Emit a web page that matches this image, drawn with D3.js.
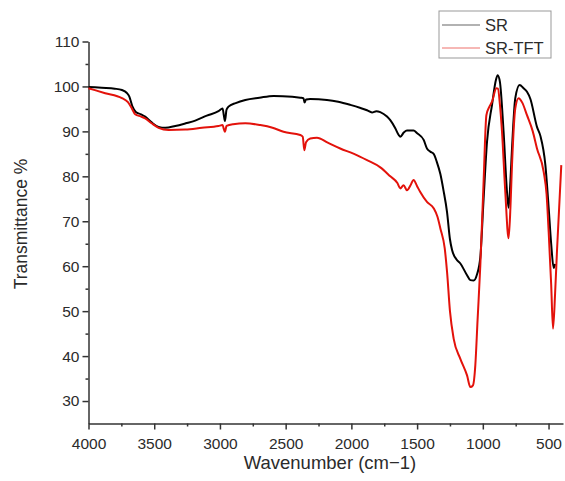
<!DOCTYPE html>
<html>
<head>
<meta charset="utf-8">
<script src="https://cdn.jsdelivr.net/npm/d3@7"></script>
<style>
  body { margin: 0; background: #fff; }
  text { font-family: "Liberation Sans", Arial, sans-serif; fill: #2b2b2b; }
</style>
</head>
<body>
<div class="chartHolder"></div>
<script>
// FTIR spectra: [wavenumber, transmittance %]
let srSpectrum = [
  [4000, 99.9], [3900, 99.7], [3800, 99.5], [3746, 99.2], [3710, 98.6], [3690, 97.8],
  [3665, 95.5], [3640, 94.3], [3600, 93.8], [3569, 93.3], [3520, 92.0], [3467, 91.0],
  [3416, 90.8], [3340, 91.2], [3260, 91.8], [3188, 92.4], [3100, 93.5], [3011, 94.5],
  [2980, 95.1], [2970, 93.5], [2962, 92.3], [2950, 94.8], [2935, 95.5], [2880, 96.3],
  [2807, 97.0], [2700, 97.5], [2592, 97.9], [2450, 97.7], [2389, 97.5], [2365, 97.4],
  [2356, 96.4], [2345, 97.1], [2313, 97.2], [2186, 97.0], [2100, 96.6], [2008, 95.9],
  [1930, 95.2], [1881, 94.7], [1843, 94.2], [1810, 94.5], [1780, 94.3], [1729, 93.3],
  [1704, 92.5], [1666, 90.7], [1640, 89.2], [1628, 88.8], [1600, 89.8], [1577, 90.2],
  [1527, 90.2], [1500, 89.6], [1450, 88.1], [1425, 86.2], [1400, 85.5], [1374, 85.0],
  [1350, 83.2], [1323, 80.5], [1300, 77.0], [1272, 72.0], [1250, 66.0], [1234, 63.6],
  [1200, 61.5], [1171, 60.6], [1120, 58.0], [1095, 56.9], [1070, 56.8], [1044, 58.2],
  [1019, 62.0], [994, 75.0], [968, 87.7], [930, 95.9], [900, 101.5], [887, 102.5],
  [870, 101.0], [842, 89.9], [816, 76.5], [804, 73.0], [790, 79.0], [778, 86.2],
  [753, 97.4], [720, 100.3], [690, 99.6], [664, 98.8], [638, 97.2], [588, 91.0],
  [562, 89.0], [524, 82.5], [499, 73.0], [480, 65.0], [461, 59.6], [450, 60.5]
];

let tftSpectrum = [
  [4000, 99.6], [3873, 98.5], [3746, 97.4], [3700, 96.5], [3670, 95.1], [3645, 93.8],
  [3600, 93.3], [3569, 92.9], [3520, 91.8], [3467, 90.8], [3391, 90.3], [3264, 90.4],
  [3137, 90.8], [3011, 91.2], [2980, 91.4], [2970, 90.5], [2962, 89.9], [2950, 91.2],
  [2900, 91.6], [2807, 91.8], [2693, 91.4], [2600, 90.8], [2516, 89.9], [2389, 89.2],
  [2370, 88.8], [2358, 85.8], [2345, 87.6], [2313, 88.4], [2262, 88.6], [2180, 87.5],
  [2085, 86.2], [1980, 85.0], [1881, 83.6], [1780, 82.0], [1704, 80.0], [1650, 78.5],
  [1628, 77.3], [1603, 78.0], [1577, 76.9], [1550, 78.0], [1527, 79.2], [1500, 77.8],
  [1476, 76.5], [1425, 74.3], [1374, 72.9], [1345, 71.0], [1323, 68.4], [1290, 64.0],
  [1272, 58.7], [1250, 50.0], [1222, 43.9], [1171, 39.4], [1120, 35.7], [1095, 33.1],
  [1075, 33.5], [1057, 38.0], [1040, 48.0], [1019, 60.2], [994, 78.9], [973, 93.6],
  [950, 95.5], [930, 96.6], [897, 99.6], [885, 99.5], [870, 96.0], [854, 89.9],
  [829, 76.5], [804, 66.2], [790, 73.0], [778, 82.5], [753, 95.1], [728, 97.4],
  [700, 96.4], [664, 93.6], [620, 90.0], [588, 86.2], [537, 81.0], [515, 76.0],
  [499, 67.6], [480, 56.0], [466, 46.1], [450, 54.0], [435, 63.9], [403, 82.5]
];

let xMajorTicks = [4000, 3500, 3000, 2500, 2000, 1500, 1000, 500];
let xMinorTicks = [3750, 3250, 2750, 2250, 1750, 1250, 750];
let yMajorTicks = [30, 40, 50, 60, 70, 80, 90, 100, 110];
let yMinorTicks = [35, 45, 55, 65, 75, 85, 95, 105];
let seriesNames = ["SR", "SR-TFT"];
let seriesColors = ["#000000", "#e3120b"];

let width = 565,
  height = 481,
  plotLeft = 88.5,
  plotRight = 563,
  plotTop = 41.5,
  plotBottom = 423.5;

// Create svg chart
let svgChart = d3
  .select(".chartHolder")
  .append("svg")
  .attr("width", width)
  .attr("height", height);

// Scales - wavenumber axis runs high to low
let xScale = d3.scaleLinear().domain([4000, 390]).range([plotLeft, plotRight]);
let yScale = d3.scaleLinear().domain([25, 110]).range([plotBottom, plotTop]);

////////////  AXES  ////////////
let xAxisGroup = svgChart
  .append("g")
  .attr("transform", `translate(0, ${plotBottom})`)
  .call(d3.axisBottom(xScale).tickValues(xMajorTicks).tickSize(6).tickSizeOuter(0).tickFormat(d3.format("d")));

svgChart
  .append("g")
  .attr("transform", `translate(0, ${plotBottom})`)
  .call(d3.axisBottom(xScale).tickValues(xMinorTicks).tickSize(3).tickSizeOuter(0).tickFormat(""))
  .select(".domain")
  .remove();

let yAxisGroup = svgChart
  .append("g")
  .attr("transform", `translate(${plotLeft}, 0)`)
  .call(d3.axisLeft(yScale).tickValues(yMajorTicks).tickSize(6).tickSizeOuter(0));

svgChart
  .append("g")
  .attr("transform", `translate(${plotLeft}, 0)`)
  .call(d3.axisLeft(yScale).tickValues(yMinorTicks).tickSize(3).tickSizeOuter(0).tickFormat(""))
  .select(".domain")
  .remove();

svgChart.selectAll(".domain, .tick line").attr("stroke", "#333").attr("stroke-width", 1.5);
svgChart.selectAll(".tick text").style("font-size", "15.5px").attr("fill", "#2b2b2b");
xAxisGroup.selectAll(".tick text").attr("dy", "1.05em");
yAxisGroup.selectAll(".tick text").attr("x", -9);

// Axis titles
svgChart
  .append("text")
  .attr("x", 330)
  .attr("y", 469)
  .attr("text-anchor", "middle")
  .style("font-size", "18.5px")
  .text("Wavenumber (cm\u22121)");

svgChart
  .append("text")
  .attr("transform", "translate(27, 224) rotate(-90)")
  .attr("text-anchor", "middle")
  .style("font-size", "17.5px")
  .text("Transmittance %");

////////////  SPECTRA  ////////////
let line = d3
  .line()
  .x((d) => xScale(d[0]))
  .y((d) => yScale(d[1]))
  .curve(d3.curveMonotoneX);

[srSpectrum, tftSpectrum].forEach((spec, i) => {
  svgChart
    .append("path")
    .datum(spec)
    .attr("d", line)
    .attr("fill", "none")
    .attr("stroke", seriesColors[i])
    .attr("stroke-width", 2)
    .attr("stroke-linejoin", "round");
});

////////////  LEGEND  ////////////
let legend = svgChart.append("g").attr("transform", "translate(439, 11)");
legend
  .append("rect")
  .attr("width", 112)
  .attr("height", 47)
  .attr("fill", "#fff")
  .attr("stroke", "#999")
  .attr("stroke-width", 1);

seriesNames.forEach((name, i) => {
  let yPos = 14 + i * 23;
  legend
    .append("line")
    .attr("x1", 3)
    .attr("x2", 41)
    .attr("y1", yPos)
    .attr("y2", yPos)
    .attr("stroke", seriesColors[i])
    .attr("stroke-width", 1)
    .attr("opacity", 0.6);
  legend
    .append("text")
    .attr("x", 46)
    .attr("y", yPos + 6)
    .style("font-size", "16.5px")
    .text(name);
});
</script>
</body>
</html>
